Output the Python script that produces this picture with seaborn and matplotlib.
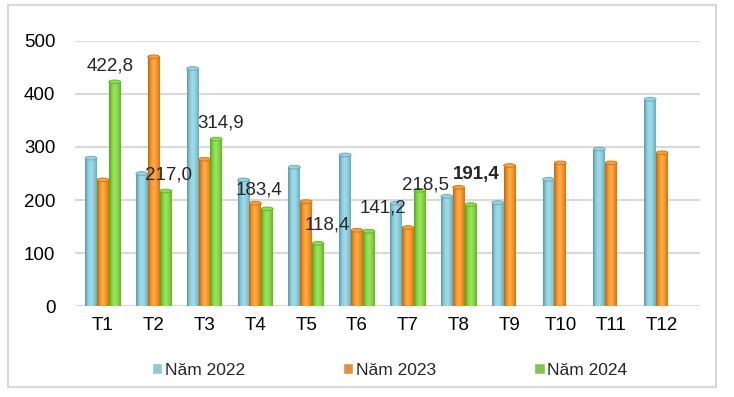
import numpy as np
import pandas as pd
import matplotlib.pyplot as plt
import seaborn as sns
from matplotlib.patches import Ellipse, Rectangle
from matplotlib.colors import LinearSegmentedColormap, to_rgb

MONTHS = ['T1', 'T2', 'T3', 'T4', 'T5', 'T6', 'T7', 'T8', 'T9', 'T10', 'T11', 'T12']
YEARS = ['Năm 2022', 'Năm 2023', 'Năm 2024']
Y2022 = [279, 250, 448, 238, 262, 285, 194, 207, 195, 239, 296, 390]
Y2023 = [238, 470, 277, 194, 197, 143, 148, 224, 265, 270, 270, 289]
Y2024 = [422.8, 217.0, 314.9, 183.4, 118.4, 141.2, 218.5, 191.4]

COLOURS = {
    'Năm 2022': '#86CFE0',
    'Năm 2023': '#FB921E',
    'Năm 2024': '#7FD93A',
}

# hand-placed data labels, offsets in points from the top of each green bar
LABEL_OFFSETS = [(-3, 11.5), (2, 11.5), (3, 11.5), (-6, 13.5),
                 (7, 13.5), (10, 17), (4, 3.5), (4, 21.5)]


def shade(c, f):
    r, g, b = to_rgb(c)
    if f < 1:
        return (r * f, g * f, b * f)
    f = f - 1
    return (r + (1 - r) * f, g + (1 - g) * f, b + (1 - b) * f)


rows = []
for year, vals in zip(YEARS, [Y2022, Y2023, Y2024]):
    for m, v in zip(MONTHS, vals):
        rows.append({'month': m, 'year': year, 'value': v})
df = pd.DataFrame(rows)

sns.set_style('white')
plt.rcParams['font.family'] = ['Liberation Sans', 'DejaVu Sans']

fig = plt.figure(figsize=(7.34, 3.97), dpi=100)
fig.patches.append(Rectangle((8 / 734, 10 / 397), 708 / 734, 382 / 397,
                             transform=fig.transFigure, fill=False,
                             edgecolor='#D9D9D9', linewidth=1.5))
ax = fig.add_axes([0.102, 0.229, 0.852, 0.668])

sns.barplot(data=df, x='month', y='value', hue='year', order=MONTHS,
            hue_order=YEARS, palette=COLOURS, width=0.7, errorbar=None,
            ax=ax, legend=True)

ax.set_yticks(range(0, 501, 100))
ax.grid(axis='y', color='#D9D9D9', linewidth=1.5)
ax.set_axisbelow(True)
for s in ax.spines.values():
    s.set_visible(False)
ax.set_xlabel('')
ax.set_ylabel('')
ax.tick_params(axis='both', length=0, labelsize=13.5, colors='black')
ax.tick_params(axis='y', pad=14)
ax.tick_params(axis='x', pad=8)

# cylinder look for each bar
ell_h = 7.0
for cont, year in zip(ax.containers, YEARS):
    base = COLOURS[year]
    cmap = LinearSegmentedColormap.from_list(
        'cyl', [shade(base, 0.72), shade(base, 1.0), shade(base, 1.25),
                shade(base, 1.0), shade(base, 0.82)])
    for bar in cont:
        h = bar.get_height()
        if not np.isfinite(h) or h <= 0:
            continue
        x, w = bar.get_x(), bar.get_width()
        bar.set_visible(False)
        grad = np.linspace(0, 1, 64).reshape(1, -1)
        ax.imshow(grad, cmap=cmap, extent=(x, x + w, 0, h), aspect='auto',
                  zorder=2, interpolation='bilinear')
        ax.add_patch(Ellipse((x + w / 2, 0), w, ell_h, facecolor=shade(base, 0.9),
                             edgecolor='none', zorder=1.9))
        ax.add_patch(Ellipse((x + w / 2, h), w, ell_h, facecolor=shade(base, 1.1),
                             edgecolor=shade(base, 0.8), linewidth=0.6, zorder=2.1))

ax.set_ylim(0, 500)
ax.set_xlim(-0.55, 11.75)

labels = [f'{v:.1f}'.replace('.', ',') for v in Y2024]
for bar, lab, off in zip(ax.containers[2], labels, LABEL_OFFSETS):
    h = bar.get_height()
    if not np.isfinite(h):
        continue
    bold = lab == '191,4'
    ax.annotate(lab, (bar.get_x() + bar.get_width() / 2, h), xytext=off,
                textcoords='offset points', ha='center', va='center',
                fontsize=13.5, fontweight='bold' if bold else 'normal', zorder=5)

handles, lbls = ax.get_legend_handles_labels()
ax.legend(handles, lbls, loc='center', bbox_to_anchor=(0.503, -0.242),
          ncol=3, frameon=False, fontsize=12.5, handlelength=0.6,
          handleheight=0.6, handletextpad=0.15, columnspacing=5.65)

fig.savefig('out.png', dpi=100)
